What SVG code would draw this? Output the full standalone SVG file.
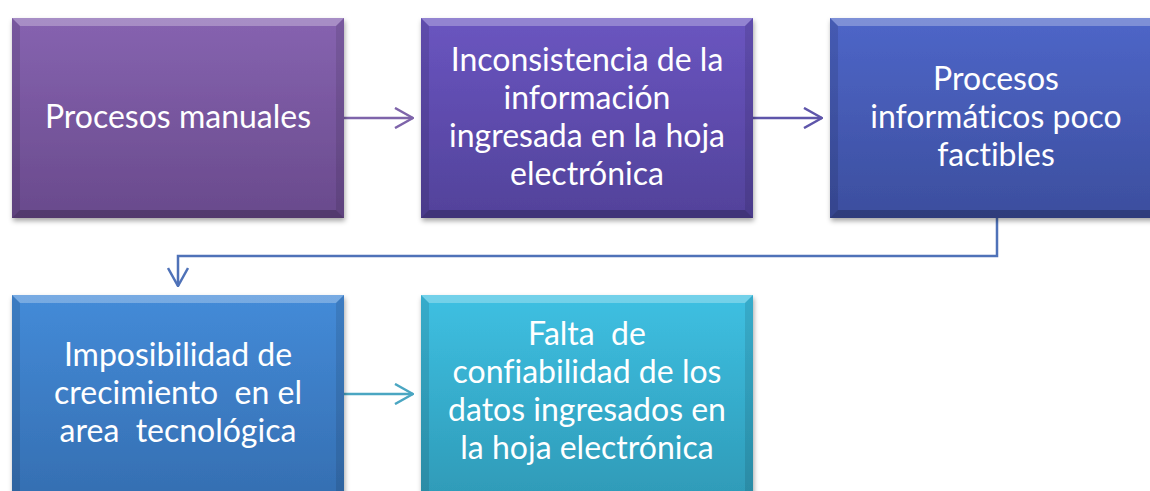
<svg xmlns="http://www.w3.org/2000/svg" width="1150" height="491" viewBox="0 0 1150 491">
<defs>
<linearGradient id="g1" x1="0" y1="0" x2="0" y2="1"><stop offset="0" stop-color="#8663b0"/><stop offset="1" stop-color="#694a8c"/></linearGradient>
<linearGradient id="g2" x1="0" y1="0" x2="0" y2="1"><stop offset="0" stop-color="#6a55c0"/><stop offset="1" stop-color="#52429a"/></linearGradient>
<linearGradient id="g3" x1="0" y1="0" x2="0" y2="1"><stop offset="0" stop-color="#4e66c8"/><stop offset="1" stop-color="#3c4e9e"/></linearGradient>
<linearGradient id="g4" x1="0" y1="0" x2="0" y2="1"><stop offset="0" stop-color="#448bd8"/><stop offset="1" stop-color="#356fb2"/></linearGradient>
<linearGradient id="g5" x1="0" y1="0" x2="0" y2="1"><stop offset="0" stop-color="#3ec0e2"/><stop offset="1" stop-color="#2f9bb8"/></linearGradient>
<filter id="sh" x="-5%" y="-5%" width="112%" height="115%"><feDropShadow dx="1" dy="3" stdDeviation="2.5" flood-color="#000" flood-opacity="0.35"/></filter>
<marker id="ah" viewBox="0 0 20 22" refX="19" refY="11" markerWidth="20" markerHeight="22" markerUnits="userSpaceOnUse" orient="auto"><path d="M1,1 L19,11 L1,21" fill="none" stroke="context-stroke" stroke-width="2.5"/></marker>
</defs>
<style>
.box{filter:url(#sh)}
.hl{fill:#fff;opacity:0.28}
.dk{fill:#000;opacity:0.22}
.sd{fill:#000;opacity:0.1}
.t{font-family:Lato,"Liberation Sans",sans-serif;font-size:32px;fill:#fff;text-anchor:middle;white-space:pre;font-variant-ligatures:none}
.c{fill:none;stroke-width:2.5}
</style>
<rect width="1150" height="491" fill="#fff"/>
<g id="connectors">
<path class="c" stroke="#7e64aa" d="M344,118 H413" marker-end="url(#ah)"/>
<path class="c" stroke="#5e55aa" d="M753,118 H822" marker-end="url(#ah)"/>
<path class="c" stroke="#4f72b8" d="M997,218 V256 H178 V286" marker-end="url(#ah)"/>
<path class="c" stroke="#4aa6c2" d="M344,394 H413" marker-end="url(#ah)"/>
</g>
<g id="n1">
<rect class="box" x="12" y="18" width="332" height="200" fill="url(#g1)"/>
<polygon class="hl" points="12,18 344,18 336,26 20,26"/>
<polygon class="sd" points="12,18 20,26 20,210 12,218"/>
<polygon class="sd" points="344,18 336,26 336,210 344,218"/>
<polygon class="dk" points="12,218 344,218 336,210 20,210"/>
<text class="t" x="178" y="128">Procesos manuales</text>
</g>
<g id="n2">
<rect class="box" x="421" y="18" width="332" height="200" fill="url(#g2)"/>
<polygon class="hl" points="421,18 753,18 745,26 429,26"/>
<polygon class="sd" points="421,18 429,26 429,210 421,218"/>
<polygon class="sd" points="753,18 745,26 745,210 753,218"/>
<polygon class="dk" points="421,218 753,218 745,210 429,210"/>
<text class="t" x="587" y="71">Inconsistencia de la</text>
<text class="t" x="587" y="109">información</text>
<text class="t" x="587" y="147">ingresada en la hoja</text>
<text class="t" x="587" y="185">electrónica</text>
</g>
<g id="n3">
<rect class="box" x="830" y="18" width="332" height="200" fill="url(#g3)"/>
<polygon class="hl" points="830,18 1162,18 1154,26 838,26"/>
<polygon class="sd" points="830,18 838,26 838,210 830,218"/>
<polygon class="dk" points="830,218 1162,218 1154,210 838,210"/>
<text class="t" x="996" y="90">Procesos</text>
<text class="t" x="996" y="128">informáticos poco</text>
<text class="t" x="996" y="166">factibles</text>
</g>
<g id="n4">
<rect class="box" x="12" y="295" width="332" height="200" fill="url(#g4)"/>
<polygon class="hl" points="12,295 344,295 336,303 20,303"/>
<polygon class="sd" points="12,295 20,303 20,491 12,491"/>
<polygon class="sd" points="344,295 336,303 336,491 344,491"/>
<text class="t" x="178" y="366">Imposibilidad de</text>
<text class="t" x="178" y="404">crecimiento  en el</text>
<text class="t" x="178" y="442">area  tecnológica</text>
</g>
<g id="n5">
<rect class="box" x="421" y="295" width="332" height="200" fill="url(#g5)"/>
<polygon class="hl" points="421,295 753,295 745,303 429,303"/>
<polygon class="sd" points="421,295 429,303 429,491 421,491"/>
<polygon class="sd" points="753,295 745,303 745,491 753,491"/>
<text class="t" x="587" y="345">Falta  de</text>
<text class="t" x="587" y="383">confiabilidad de los</text>
<text class="t" x="587" y="421">datos ingresados en</text>
<text class="t" x="587" y="459">la hoja electrónica</text>
</g>
</svg>
